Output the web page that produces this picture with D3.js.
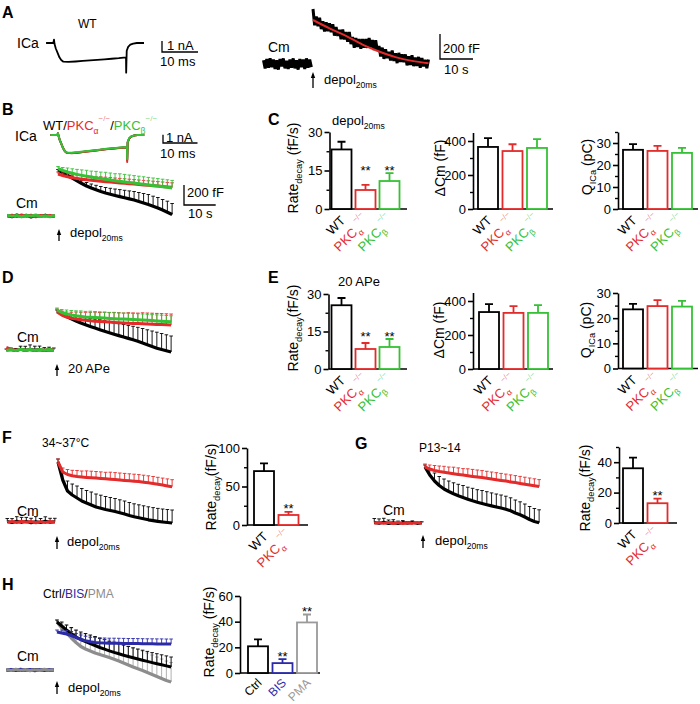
<!DOCTYPE html>
<html><head><meta charset="utf-8">
<script src="https://cdn.jsdelivr.net/npm/d3@7"></script>
<style>body{margin:0;background:#fff}svg{display:block}</style>
</head><body>
<script>
// ---------------- DATA ----------------
const RED = "#e32b2b", GREEN = "#35c135", BLUE = "#2b2ba8", GREY = "#8d8d8d", BLACK = "#000";

// Panel A: ICa (ms, nA)
const icaT = [-2.2,-0.2,0,0.15,0.5,1,1.5,2,2.6,4,6,8,10,12,14,16,18,20,20.05,20.2,20.6,21.2,22,23,25];
const icaA = [0,0,0.3,-0.1,-0.5,-0.9,-1.3,-1.55,-1.7,-1.72,-1.68,-1.63,-1.58,-1.53,-1.48,-1.43,-1.38,-1.3,-2.7,-0.7,-0.35,-0.15,-0.05,0,0];
// Panel A: Cm (s, fF)
const cmApreT = [-15,-14.5,-14,-13.5,-13,-12.5,-12,-11.5,-11,-10.5,-10,-9.5,-9,-8.5,-8,-7.5,-7,-6.5,-6,-5.5,-5,-4.5,-4,-3.5,-3,-2.5,-2,-1.5,-1,-0.5];
const cmApreV = [30,-35,40,-30,45,-25,35,-40,30,-45,40,-20,45,-35,25,-40,35,-30,45,-35,30,-45,40,-25,35,-40,45,-30,35,-25];
const cmApostT = [0,0.5,1,1.5,2,2.5,3,3.5,4,4.5,5,5.5,6,6.5,7,7.5,8,8.5,9,9.5,10,10.5,11,11.5,12,12.5,13,13.5,14,14.5,15,15.5,16,16.5,17,17.5,18,18.5,19,19.5,20,20.5,21,21.5,22,22.5,23,23.5,24,24.5,25,25.5,26,26.5,27,27.5,28,28.5,29,29.5,30,30.5,31,31.5,32,32.5,33,33.5,34,34.5,35];
const cmApostV = [440,310,379,302,370,279,342,260,333,262,325,254,318,227,296,225,274,198,277,196,255,178,256,159,217,130,208,136,199,122,200,130,199,129,208,133,192,112,191,106,145,60,131,41,117,47,98,28,109,24,85,7,89,16,78,15,77,-11,61,-7,70,-17,51,-16,57,-30,48,-19,34,-33,36];
const fitT = [0,5,10,15,20,25,30,35];
const fitV = [352,285,225,155,100,55,25,6];

// Panel B: ICa
const icaB_WT    = [0,0,0.2,-0.1,-0.6,-1.1,-1.6,-1.95,-2.15,-2.18,-2.1,-2.0,-1.9,-1.8,-1.7,-1.62,-1.55,-1.47,-3.0,-0.9,-0.45,-0.2,-0.07,0,0];
const icaB_Red   = [0,0,0.2,-0.1,-0.6,-1.1,-1.6,-1.95,-2.15,-2.2,-2.12,-2.02,-1.92,-1.82,-1.72,-1.63,-1.56,-1.5,-3.25,-0.9,-0.45,-0.2,-0.07,0,0];
const icaB_Green = [0,0,0.2,-0.1,-0.6,-1.1,-1.6,-1.95,-2.12,-2.14,-2.06,-1.96,-1.86,-1.77,-1.67,-1.59,-1.52,-1.45,-2.9,-0.85,-0.4,-0.18,-0.06,0,0];

// Averaged Cm traces (s, fF)
const tPost = [0,1.5,3,4.5,6,7.5,9,10.5,12,13.5,15,16.5,18,19.5,21,22.5,24,25.5,27,28.5,30,31.5,33,34.5,36];
const tPre = [-16,-14.5,-13,-11.5,-10,-8.5,-7,-5.5,-4,-2.5,-1];

const bWT = [460,430,405,380,352,325,300,280,262,245,230,217,205,194,182,171,160,145,130,115,98,80,60,38,15];
const bWTs = [5,10,15,20,25,30,35,40,45,50,55,60,65,70,75,80,85,90,95,100,100,105,105,110,110];
const bRed = [420,405,392,383,375,368,362,357,352,347,343,339,335,331,327,323,319,315,311,307,303,299,295,291,287];
const bRedS = [20,25,30,35,35,40,40,40,40,45,45,45,45,45,45,45,45,45,45,45,45,45,45,45,45];
const bGreen = [475,455,440,427,416,406,397,389,381,374,367,360,353,347,341,335,329,323,317,311,305,299,293,287,281];
const bGreenS = [20,30,40,45,50,55,60,60,65,65,70,70,70,75,75,75,75,75,75,75,75,75,75,75,75];
const bWTpre = [5,-8,10,-5,8,-10,6,-4,9,-6,3];
const bRedPre = [-5,8,-6,10,-4,7,-8,5,-3,6,-5];
const bGreenPre = [8,-4,6,-9,5,-3,10,-6,4,-8,6];

const dWT = [390,360,335,312,290,270,252,235,219,203,188,173,158,144,130,116,102,87,70,52,35,18,5,-8,-20];
const dWTs = [10,20,30,40,50,60,70,80,90,100,105,110,115,120,125,130,135,140,145,150,155,160,160,160,160];
const dRed = [380,350,330,318,310,303,297,292,288,285,282,279,276,273,270,268,266,264,262,260,258,256,254,252,250];
const dRedS = [30,40,50,60,70,75,80,85,90,90,95,95,100,100,100,105,105,105,110,110,110,110,110,110,110];
const dGreen = [400,375,360,350,342,336,331,328,325,322,319,316,313,311,309,307,305,303,300,297,294,291,288,285,282];
const dGreenS = [20,30,40,45,50,55,55,60,60,60,60,60,60,60,60,60,60,60,60,60,60,60,60,60,60];
const dWTpre = [0,5,-5,8,-3,6,-2,4,-6,3,0];
const dWTpreS = [10,15,20,30,40,45,40,35,30,25,20];
const dRedPre = [25,5,-3,6,-5,4,-6,3,-2,5,0];
const dGreenPre = [-5,4,-6,8,-3,5,-4,6,-2,4,-3];

const fWT = [600,420,310,270,240,210,190,170,150,138,125,115,105,92,80,65,52,42,32,22,14,6,0,-5,-10];
const fWTs = [30,80,100,110,120,125,125,130,130,130,130,130,130,130,130,130,130,130,130,130,130,130,130,130,130];
const fRed = [600,500,475,462,455,450,446,443,440,436,432,428,424,420,416,412,408,404,398,392,385,377,369,361,353];
const fRedS = [30,40,50,55,60,60,65,65,65,65,65,70,70,70,70,70,70,70,70,70,70,70,70,70,70];
const fWTpre = [5,-6,8,-4,6,-8,4,-5,7,-3,2];
const fWTpreS = [30,40,45,50,40,45,50,40,45,40,35];
const fRedPre = [-4,6,-5,8,-3,5,-7,4,-6,5,-2];

const gWT = [560,480,420,375,340,315,292,272,255,238,222,208,195,183,171,160,150,138,122,100,82,60,35,15,2];
const gWTs = [20,60,80,90,100,105,110,115,120,120,125,125,130,130,130,130,130,130,130,130,130,130,130,130,130];
const gRed = [560,540,525,515,507,500,493,486,479,472,466,460,454,447,440,433,426,419,411,404,396,388,380,372,364];
const gRedS = [30,40,50,55,60,60,65,65,65,70,70,70,70,70,70,70,70,70,70,70,70,70,70,70,70];
const gWTpre = [5,-4,7,-5,3,-6,4,-3,6,-4,2];
const gWTpreS = [40,45,40,35,30,25,20,15,15,10,10];
const gRedPre = [-3,5,-4,6,-5,4,-6,3,-4,5,-2];

const hGrey = [480,420,370,320,275,235,210,190,170,155,140,125,108,90,70,50,30,12,-5,-25,-45,-65,-85,-105,-120];
const hGreyS = [20,50,80,100,120,130,140,150,160,165,170,175,180,185,190,190,190,195,195,195,195,195,195,195,195];
const hBlack = [480,440,400,365,330,305,285,265,245,225,208,192,176,162,148,135,122,110,98,86,74,63,52,41,30];
const hBlackS = [20,40,50,60,70,75,80,85,90,90,95,95,100,100,100,100,100,100,100,100,100,100,100,100,100];
const hBlue = [380,370,360,345,325,305,292,282,276,272,270,268,268,267,266,265,265,264,263,262,262,261,261,260,260];
const hBlueS = [20,30,35,40,40,45,45,45,50,50,50,50,50,50,50,50,50,50,50,50,50,50,50,50,50];
const hGreyPre = [5,-6,8,-4,6,-8,4,-5,7,-3,2];
const hBluePre = [-4,6,-5,8,-3,5,-7,4,-6,5,-2];
const hBlackPre = [3,-5,4,-6,5,-4,6,-3,5,-4,3];

// Bar charts
const catsKO = ["WT","PKCa","PKCb"];
const catsF = ["WT","PKCa"];
const catsH = ["Ctrl","BIS","PMA"];
const rateC = [23.2,7.4,10.9], rateCsem = [3.0,2.0,3.1];
const dCmC = [365,341,359], dCmCsem = [52,40,52];
const qC = [26.9,26.4,25.5], qCsem = [2.6,2.3,2.3];
const rateE = [25.5,8.0,8.8], rateEsem = [2.9,2.4,3.2];
const dCmE = [335,330,330], dCmEsem = [47,40,46];
const qE = [23.5,24.8,24.6], qEsem = [2.2,2.4,2.3];
const rateF = [70,13], rateFsem = [10,4];
const rateG = [36,13], rateGsem = [7,3];
const rateH = [20.8,7.7,39.4], rateHsem = [5.4,3.1,6.2];
const ticks30 = [0,15,30], ticks400 = [0,200,400], ticksQ = [0,10,20,30];
const ticks100 = [0,50,100], ticks40 = [0,20,40], ticks60 = [0,20,40,60];

// ---------------- DRAW ----------------
const FONT = "Arial, 'Liberation Sans', Helvetica, sans-serif";
const svg = d3.select("body").append("svg").attr("width",700).attr("height",704)
  .attr("font-family", FONT);

function rich(parent, x, y, parts, o = {}) {
  const size = o.size || 13;
  const t = parent.append("text").attr("x", x).attr("y", y).attr("font-size", size)
    .attr("text-anchor", o.anchor || "start").attr("fill", o.fill || BLACK);
  if (o.weight) t.attr("font-weight", o.weight);
  if (o.rotate != null) t.attr("transform", `rotate(${o.rotate},${x},${y})`);
  let cur = 0;
  parts.forEach(p => {
    const [str, kind, color, op] = p;
    let dy = 0, fs = size;
    if (kind === "sub") { dy = size * 0.32; fs = size * 0.66; }
    else if (kind === "sup") { dy = -size * 0.72; fs = size * 0.62; }
    const sp = t.append("tspan").attr("dy", dy - cur).attr("font-size", fs).text(str);
    if (color) sp.attr("fill", color);
    if (op) sp.attr("fill-opacity", op);
    cur = dy;
  });
  return t;
}

function arrow(x, yb, yt) {
  svg.append("line").attr("x1", x).attr("x2", x).attr("y1", yb).attr("y2", yt + 4)
    .attr("stroke", BLACK).attr("stroke-width", 1.3);
  svg.append("path").attr("d", `M${x},${yt}L${x-2.2},${yt+6}L${x+2.2},${yt+6}Z`).attr("fill", BLACK);
}
function scaleBar(x, y, w, h) {
  svg.append("path").attr("d", `M${x},${y-h}V${y}H${x+w}`).attr("fill","none")
    .attr("stroke", BLACK).attr("stroke-width", 1.3);
}
function lineOf(xs, ys, curve) {
  const l = d3.line().x(d => xs(d[0])).y(d => ys(d[1]));
  if (curve) l.curve(curve);
  return l;
}
function plainLine(g, xs, ys, t, v, color, lw, curve, join) {
  g.append("path").datum(t.map((ti,i) => [ti, v[i]])).attr("d", lineOf(xs, ys, curve))
    .attr("fill","none").attr("stroke", color).attr("stroke-width", lw).attr("stroke-linejoin", join || "round");
}
function meanTrace(g, xs, ys, t, v, s, color, lw, ecol) {
  if (s) {
    const eb = g.append("g").attr("stroke", ecol || color).attr("stroke-width", 0.9).attr("fill","none");
    t.forEach((ti,i) => {
      const x = xs(ti), y1 = ys(v[i]), y2 = ys(v[i] + s[i]);
      eb.append("path").attr("d", `M${x},${y1}V${y2}M${x-1.8},${y2}H${x+1.8}`);
    });
  }
  plainLine(g, xs, ys, t, v, color, lw || 3);
}

// panel letters
[["A",2,18],["B",2,115],["C",268,125],["D",2,283],["E",268,283],["F",2,443],["G",355,449],["H",2,590]]
  .forEach(([s,x,y]) => svg.append("text").attr("x",x).attr("y",y).attr("font-size",16)
    .attr("font-weight","bold").text(s));

// ----- Panel A -----
{
  const g = svg.append("g");
  const xI = d3.scaleLinear().domain([0,10]).range([54, 90]);
  const yI = d3.scaleLinear().domain([0,-1]).range([43, 54]);
  plainLine(g, xI, yI, icaT, icaA, BLACK, 1.8);
  rich(svg, 78, 28, [["WT"]], {size:12});
  rich(svg, 17, 48, [["ICa"]], {size:14});
  scaleBar(162, 52, xI(10)-xI(0), yI(-1)-yI(0));
  rich(svg, 167, 50, [["1 nA"]], {size:13});
  rich(svg, 160, 66, [["10 ms"]], {size:13});

  const xA = d3.scaleLinear().domain([0,10]).range([313, 346]);
  const yA = d3.scaleLinear().domain([0,200]).range([64, 39]);
  plainLine(g, xA, yA, cmApreT, cmApreV, BLACK, 3, null, "miter");
  plainLine(g, xA, yA, cmApostT, cmApostV, BLACK, 3, null, "miter");
  plainLine(g, xA, yA, fitT, fitV, RED, 2, d3.curveMonotoneX);
  rich(svg, 268, 52, [["Cm"]], {size:14});
  arrow(313, 88, 72);
  rich(svg, 324, 84, [["depol"],["20ms","sub"]], {size:13});
  scaleBar(440, 59, xA(10)-xA(0), yA(0)-yA(200));
  rich(svg, 443, 53, [["200 fF"]], {size:13});
  rich(svg, 444, 74, [["10 s"]], {size:13});
}

// ----- Panel B -----
{
  const g = svg.append("g");
  const xI = d3.scaleLinear().domain([0,10]).range([58, 92.5]);
  const yI = d3.scaleLinear().domain([0,-1]).range([135, 143.3]);
  plainLine(g, xI, yI, icaT, icaB_WT, BLACK, 2);
  plainLine(g, xI, yI, icaT, icaB_Red, RED, 2);
  plainLine(g, xI, yI, icaT, icaB_Green, GREEN, 2);
  rich(svg, 15, 141, [["ICa"]], {size:14});
  rich(svg, 43, 130, [["WT/"],["PKC",null,RED],["α","sub",RED],["−/−","sup",RED,0.6],["/"],["PKC",null,GREEN],["β","sub",GREEN],["−/−","sup",GREEN,0.6]], {size:13});
  scaleBar(163, 143, xI(10)-xI(0), yI(-1)-yI(0));
  rich(svg, 166, 142, [["1 nA"]], {size:13});
  rich(svg, 160, 158, [["10 ms"]], {size:13});

  const xs = d3.scaleLinear().domain([0,10]).range([58, 89.7]);
  const ys = d3.scaleLinear().domain([0,200]).range([216, 196]);
  plainLine(g, xs, ys, tPre, bWTpre, BLACK, 3);
  plainLine(g, xs, ys, tPre, bRedPre, RED, 3);
  plainLine(g, xs, ys, tPre, bGreenPre, GREEN, 3);
  meanTrace(g, xs, ys, tPost, bWT, bWTs, BLACK, 3.2);
  meanTrace(g, xs, ys, tPost, bRed, bRedS, RED, 3);
  meanTrace(g, xs, ys, tPost, bGreen, bGreenS, GREEN, 3);
  rich(svg, 16, 208, [["Cm"]], {size:14});
  arrow(59, 241, 229);
  rich(svg, 70, 237, [["depol"],["20ms","sub"]], {size:13});
  scaleBar(184, 205, xs(10)-xs(0), ys(0)-ys(200));
  rich(svg, 187, 197, [["200 fF"]], {size:13});
  rich(svg, 188, 218, [["10 s"]], {size:13});
}

// ----- Panel D -----
{
  const g = svg.append("g");
  const xs = d3.scaleLinear().domain([0,10]).range([57, 88.7]);
  const ys = d3.scaleLinear().domain([0,200]).range([350, 330]);
  meanTrace(g, xs, ys, tPre, dWTpre, dWTpreS, BLACK, 3);
  plainLine(g, xs, ys, tPre, dRedPre, RED, 3);
  plainLine(g, xs, ys, tPre, dGreenPre, GREEN, 3);
  meanTrace(g, xs, ys, tPost, dWT, dWTs, BLACK, 3.2);
  meanTrace(g, xs, ys, tPost, dRed, dRedS, RED, 3);
  meanTrace(g, xs, ys, tPost, dGreen, dGreenS, GREEN, 3);
  rich(svg, 17, 342, [["Cm"]], {size:14});
  arrow(57, 376, 364);
  rich(svg, 68, 373, [["20 APe"]], {size:13});
}

// ----- Panel F -----
{
  const g = svg.append("g");
  const xs = d3.scaleLinear().domain([0,10]).range([58, 89.7]);
  const ys = d3.scaleLinear().domain([0,200]).range([522, 502]);
  meanTrace(g, xs, ys, tPre, fWTpre, fWTpreS, BLACK, 3);
  meanTrace(g, xs, ys, tPre, fRedPre, null, RED, 3);
  meanTrace(g, xs, ys, tPost, fWT, fWTs, BLACK, 3.2);
  meanTrace(g, xs, ys, tPost, fRed, fRedS, RED, 3);
  rich(svg, 42, 447, [["34~37°C"]], {size:12});
  rich(svg, 17, 516, [["Cm"]], {size:14});
  arrow(57, 549, 536);
  rich(svg, 67, 546, [["depol"],["20ms","sub"]], {size:13});
}

// ----- Panel G -----
{
  const g = svg.append("g");
  const xs = d3.scaleLinear().domain([0,10]).range([425, 456.7]);
  const ys = d3.scaleLinear().domain([0,200]).range([523, 503]);
  meanTrace(g, xs, ys, tPre, gWTpre, gWTpreS, BLACK, 3);
  plainLine(g, xs, ys, tPre, gRedPre, RED, 3);
  meanTrace(g, xs, ys, tPost, gWT, gWTs, BLACK, 3.2);
  meanTrace(g, xs, ys, tPost, gRed, gRedS, RED, 3);
  rich(svg, 419, 452, [["P13~14"]], {size:12});
  rich(svg, 383, 515, [["Cm"]], {size:14});
  arrow(423, 548, 535);
  rich(svg, 435, 545, [["depol"],["20ms","sub"]], {size:13});
}

// ----- Panel H -----
{
  const g = svg.append("g");
  const xs = d3.scaleLinear().domain([0,10]).range([57, 88.7]);
  const ys = d3.scaleLinear().domain([0,200]).range([670, 650]);
  plainLine(g, xs, ys, tPre, hBlackPre, BLACK, 3);
  plainLine(g, xs, ys, tPre, hBluePre, BLUE, 3);
  plainLine(g, xs, ys, tPre, hGreyPre, GREY, 3);
  meanTrace(g, xs, ys, tPost, hGrey, hGreyS, GREY, 3.2, "#a8a8a8");
  meanTrace(g, xs, ys, tPost, hBlack, hBlackS, BLACK, 3);
  meanTrace(g, xs, ys, tPost, hBlue, hBlueS, BLUE, 3);
  rich(svg, 43, 598, [["Ctrl/"],["BIS",null,BLUE],["/"],["PMA",null,GREY]], {size:12});
  rich(svg, 17, 661, [["Cm"]], {size:14});
  arrow(57, 694, 681);
  rich(svg, 68, 692, [["depol"],["20ms","sub"]], {size:13});
}

// ----- Bar charts -----
const catLabel = {
  WT: [["WT"]],
  PKCa: [["PKC"],["α","sub"],["−/−","sup",null,0.55]],
  PKCb: [["PKC"],["β","sub"],["−/−","sup",null,0.55]],
  Ctrl: [["Ctrl"]], BIS: [["BIS"]], PMA: [["PMA"]]
};
const catColor = {WT: BLACK, PKCa: RED, PKCb: GREEN, Ctrl: BLACK, BIS: BLUE, PMA: "#9a9a9a"};

function barChart(c) {
  const g = svg.append("g");
  const y = d3.scaleLinear().domain([0, c.max]).range([c.y0, c.yTop]);
  const n = c.cats.length, w = 20;
  const x = d3.scaleBand().domain(c.cats)
    .range([c.ax + c.off, c.ax + c.off + (n-1)*c.step + w])
    .paddingInner((c.step - w)/c.step).paddingOuter(0);
  const ga = g.append("g").attr("transform", `translate(${c.ax},0)`)
    .call(d3.axisLeft(y).tickValues(c.ticks).tickSize(5).tickSizeOuter(0).tickPadding(2).tickFormat(d3.format("d")));
  ga.attr("font-family", FONT).attr("font-size", 13);
  ga.select(".domain").attr("stroke-width", 1.6);
  ga.selectAll(".tick line").attr("stroke-width", 1.6);
  if (c.minor && c.minor.length) {
    const gm = g.append("g").attr("transform", `translate(${c.ax},0)`)
      .call(d3.axisLeft(y).tickValues(c.minor).tickSize(3).tickSizeOuter(0).tickFormat(""));
    gm.select(".domain").remove();
    gm.selectAll(".tick line").attr("stroke-width", 1.4);
  }
  g.append("line").attr("x1", c.ax).attr("x2", c.end).attr("y1", y(0)).attr("y2", y(0))
    .attr("stroke", BLACK).attr("stroke-width", 1.6);
  const lfs = c.labSize || 13, ldy = c.labDy || 12.5;
  c.cats.forEach((k, i) => {
    const col = catColor[k], bx = x(k), bw = x.bandwidth(), cx = bx + bw/2;
    const top = y(c.vals[i]), et = y(c.vals[i] + c.sems[i]);
    g.append("path").attr("d", `M${cx},${top}V${et}M${cx-4},${et}H${cx+4}`)
      .attr("stroke", col).attr("stroke-width", 1.8).attr("fill","none");
    g.append("rect").attr("x", bx).attr("y", top).attr("width", bw).attr("height", y(0) - top)
      .attr("fill", "#fff").attr("stroke", col).attr("stroke-width", 1.8);
    rich(g, cx + 4.5, y(0) + ldy, catLabel[k], {size:lfs, anchor:"end", rotate:-45, fill: col});
  });
  if (c.stars) {
    const starred = c.cats.map((k,i) => i).filter(i => c.stars[i]);
    const common = d3.min(starred, i => y(c.vals[i] + c.sems[i]));
    starred.forEach(i => {
      const k = c.cats[i], cx = x(k) + x.bandwidth()/2;
      const sy = c.align ? common : y(c.vals[i] + c.sems[i]);
      g.append("text").attr("x", cx).attr("y", sy + 1.5).attr("text-anchor","middle")
        .attr("font-size", 13).text("**");
    });
  }
  if (c.title) rich(g, c.title.x, c.title.y, c.title.parts, {size:13});
  rich(g, c.lab.x, c.lab.y, c.lab.parts, {size:14, anchor:"middle", rotate:-90});
}

const rateLab = [["Rate"],["decay","sub"],[" (fF/s)"]];
const rateLab2 = [["Rate"],["decay","sub"],["(fF/s)"]];

barChart({ax:329.5, y0:209, yTop:132, max:30, ticks:ticks30, minor:[7.5,22.5], off:2, step:24, end:407,
  cats:catsKO, vals:rateC, sems:rateCsem, stars:[0,1,1], align:true,
  title:{x:332, y:125, parts:[["depol"],["20ms","sub"]]}, lab:{x:298, y:168, parts:rateLab}});
barChart({ax:473, y0:209, yTop:132.5, max:450, ticks:ticks400, minor:[100,300], off:5, step:24.5, end:553,
  cats:catsKO, vals:dCmC, sems:dCmCsem, lab:{x:445, y:168, parts:[["ΔCm (fF)"]]}});
barChart({ax:618, y0:209, yTop:132, max:35, ticks:ticksQ, minor:[5,15,25,35], off:5, step:24.5, end:698,
  cats:catsKO, vals:qC, sems:qCsem, lab:{x:592, y:167, parts:[["Q"],["ICa","sub"],[" (pC)"]]}});

barChart({ax:328.5, y0:369, yTop:294, max:30, ticks:ticks30, minor:[7.5,22.5], off:3, step:24, end:407,
  cats:catsKO, vals:rateE, sems:rateEsem, stars:[0,1,1], align:true,
  title:{x:338, y:286, parts:[["20 APe"]]}, lab:{x:298, y:328, parts:rateLab2}});
barChart({ax:473, y0:369, yTop:292.5, max:450, ticks:ticks400, minor:[100,300], off:6, step:24.5, end:553,
  cats:catsKO, vals:dCmE, sems:dCmEsem, lab:{x:444, y:330, parts:[["ΔCm (fF)"]]}});
barChart({ax:618, y0:368.5, yTop:293, max:30, ticks:ticksQ, minor:[5,15,25], off:5, step:24.5, end:698,
  cats:catsKO, vals:qE, sems:qEsem, lab:{x:591, y:330, parts:[["Q"],["ICa","sub"],[" (pC)"]]}});

barChart({ax:247, y0:525, yTop:448, max:100, ticks:ticks100, minor:[25,75], off:7, step:24.5, end:308,
  cats:catsF, vals:rateF, sems:rateFsem, stars:[0,1], lab:{x:216, y:487, parts:rateLab2}});
barChart({ax:619, y0:523, yTop:447, max:50, ticks:ticks40, minor:[10,30,50], off:4, step:24.5, end:677,
  cats:catsF, vals:rateG, sems:rateGsem, stars:[0,1], lab:{x:590, y:488, parts:rateLab2}});
barChart({ax:240, y0:673, yTop:596, max:60, ticks:ticks60, minor:[], off:8, step:24.5, end:320,
  cats:catsH, vals:rateH, sems:rateHsem, stars:[0,1,1], labSize:12, labDy:10.5, lab:{x:214, y:632, parts:rateLab}});
</script>
</body></html>
